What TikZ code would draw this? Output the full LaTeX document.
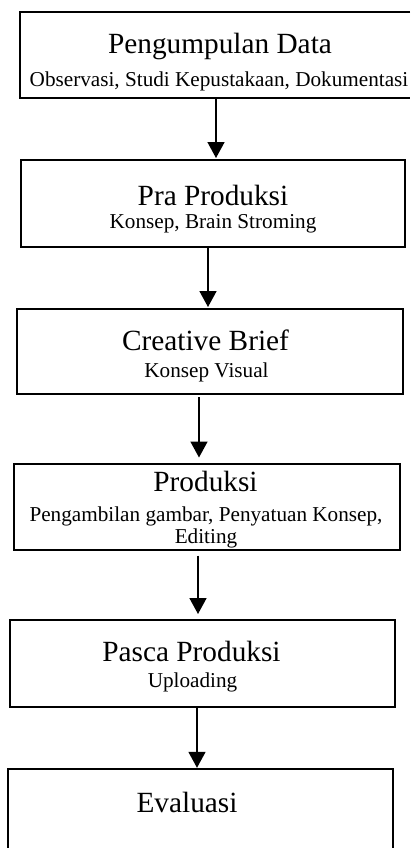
\documentclass[tikz,border=0pt]{standalone}
\usepackage{fontspec}
\setmainfont{Liberation Serif}
\usetikzlibrary{arrows.meta}

\tikzset{
  stage/.style={draw=black, line width=2pt, rectangle, inner sep=0pt},
  openstage/.style={rectangle, inner sep=0pt},
  rim/.style={draw=black, line width=2pt},
  headtext/.style={anchor=base, inner sep=0pt, font=\fontsize{29.3}{34}\selectfont},
  subtext/.style={anchor=base, inner sep=0pt, font=\fontsize{21.2}{24}\selectfont},
  flow/.style={line width=1.6pt, -{Triangle[width=17pt,length=16pt]}},
}

\begin{document}
\begin{tikzpicture}[x=1pt, y=-1pt]
  \useasboundingbox (0,0) rectangle (410,848);

  % stage boxes; the first one runs past the right page edge, the last past the bottom
  \node[openstage, minimum width=400pt, minimum height=85.5pt] (b1) at (220,54.75) {};
  \draw[rim] (410,0 |- b1.north) -- (b1.north west) -- (b1.south west) -- (410,0 |- b1.south);
  \node[stage, minimum width=384pt, minimum height=86.5pt] (b2) at (213,203.25) {};
  \node[stage, minimum width=386pt, minimum height=85pt]   (b3) at (210,351.5) {};
  \node[stage, minimum width=386pt, minimum height=86pt]   (b4) at (207,506.5) {};
  \node[stage, minimum width=385pt, minimum height=86.5pt] (b5) at (202.5,663.25) {};
  \node[openstage, minimum width=385pt, minimum height=100pt] (b6) at (200.5,819) {};
  \draw[rim] (b6.west |- 0,848) -- (b6.north west) -- (b6.north east) -- (b6.east |- 0,848);

  % stage titles and details
  \node[headtext] (t1) at (220,54) {Pengumpulan Data};
  \node[subtext]  (s1) at (219,87) {Observasi, Studi Kepustakaan, Dokumentasi};

  \node[headtext] (t2) at (213,205) {Pra Produksi};
  \node[subtext]  (s2) at (213,228) {Konsep, Brain Stroming};

  \node[headtext] (t3) at (205.5,350) {Creative Brief};
  \node[subtext]  (s3) at (206.5,377) {Konsep Visual};

  \node[headtext] (t4) at (205.5,491.7) {Produksi};
  \node[subtext]  (s4) at (206,521) {Pengambilan gambar, Penyatuan Konsep,};
  \node[subtext]  (s4b) at (206,543.3) {Editing};

  \node[headtext] (t5) at (191.5,661.5) {Pasca Produksi};
  \node[subtext]  (s5) at (192.5,687) {Uploading};

  \node[headtext] (t6) at (187,812) {Evaluasi};

  % arrow axes
  \coordinate (ax1) at (216,0);
  \coordinate (ax2) at (208,0);
  \coordinate (ax3) at (199,0);
  \coordinate (ax4) at (198,0);
  \coordinate (ax5) at (197,0);

  % connectors
  \draw[flow, shorten >=1pt] (b1.south -| ax1) -- (b2.north -| ax1);
  \draw[flow, shorten >=1pt] (b2.south -| ax2) -- (b3.north -| ax2);
  \draw[flow, shorten <=2pt, shorten >=5pt] (b3.south -| ax3) -- (b4.north -| ax3);
  \draw[flow, shorten <=5pt, shorten >=5pt] (b4.south -| ax4) -- (b5.north -| ax4);
  \draw[flow, shorten >=1pt] (b5.south -| ax5) -- (b6.north -| ax5);
\end{tikzpicture}
\end{document}
